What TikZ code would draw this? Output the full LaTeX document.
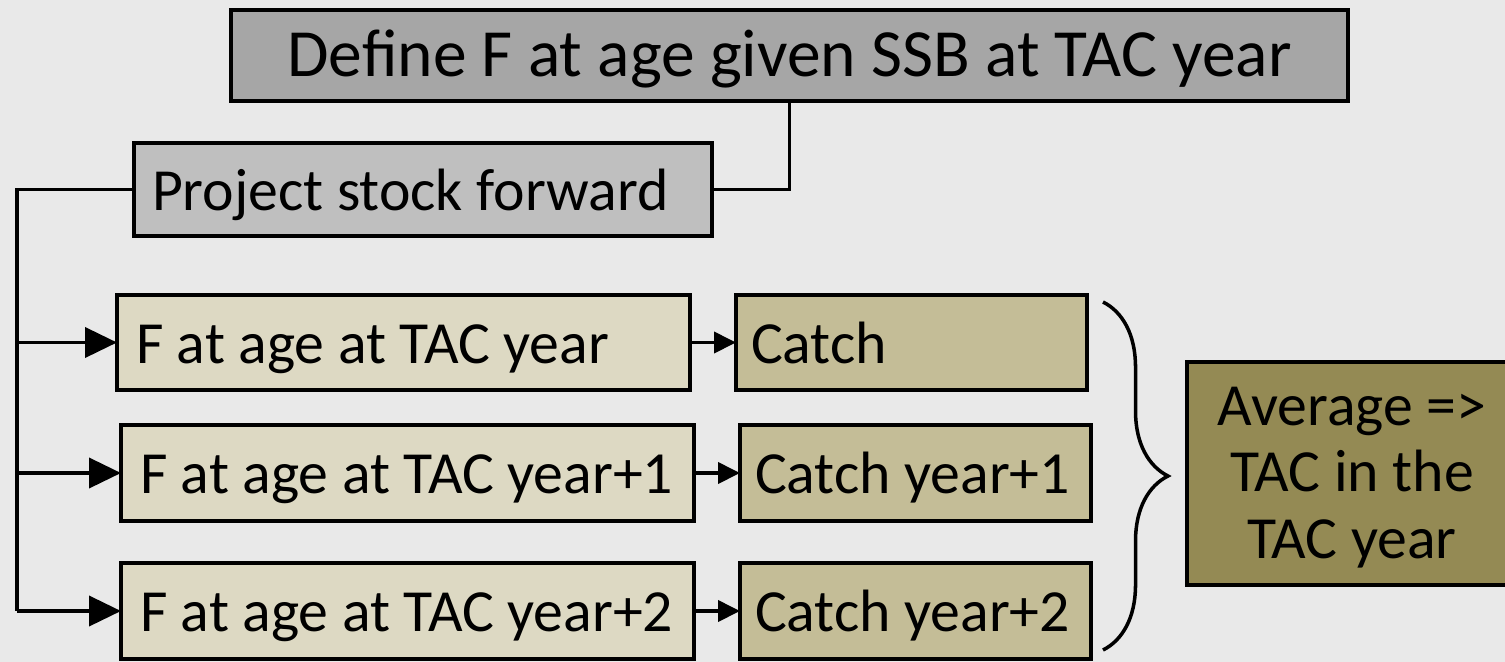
\documentclass[tikz,border=0pt]{standalone}
\usepackage{fontspec}
\setmainfont{Carlito}
\usetikzlibrary{positioning, arrows.meta, decorations.pathreplacing}
\definecolor{bgedge}{HTML}{E9E9E9}
\definecolor{bgmid}{HTML}{DADADA}
\definecolor{titlefill}{HTML}{A6A6A6}
\definecolor{projfill}{HTML}{BFBFBF}
\definecolor{agefill}{HTML}{DDD9C3}
\definecolor{catchfill}{HTML}{C4BD97}
\definecolor{avgfill}{HTML}{948A54}

\begin{document}
\begin{tikzpicture}[
  box/.style={draw, line width=1pt, anchor=north west, outer sep=0pt, inner ysep=0pt,
    text height=0.52cm, text depth=0.11cm, align=flush left, font=\fontsize{17}{19}\selectfont},
  conn/.style={line width=1.1pt},
  bigtip/.style={conn, -{Triangle[length=0.32cm, width=0.3cm]}},
  smalltip/.style={conn, -{Triangle[length=0.22cm, width=0.21cm]}}]
  \useasboundingbox (0,0) rectangle (15.05,-6.61);
  \clip (0,0) rectangle (15.05,-6.61);
  \shade[left color=bgedge, middle color=bgmid, right color=bgedge] (0,0) rectangle (15.05,-6.61);

  \node[box, fill=titlefill, align=flush center, text width=10.8cm, inner xsep=0.185cm, minimum height=0.91cm,
    font=\fontsize{19.2}{22}\selectfont] (define) at (2.31,-0.10) {Define F at age given SSB at TAC year};
  \node[box, fill=projfill, text width=5.42cm, inner xsep=0.18cm, minimum height=0.93cm] (project) at (1.34,-1.43) {Project stock forward};

  \node[box, fill=agefill, text width=5.35cm, inner xsep=0.19cm, minimum height=0.95cm] (age0) at (1.17,-2.95) {F at age at TAC year};
  \node[box, fill=agefill, text width=5.35cm, inner xsep=0.19cm, minimum height=0.96cm] (age1) at (1.21,-4.25) {F at age at TAC year+1};
  \node[box, fill=agefill, text width=5.35cm, inner xsep=0.19cm, minimum height=0.96cm] (age2) at (1.21,-5.63) {F at age at TAC year+2};

  \node[box, fill=catchfill, text width=3.21cm, inner xsep=0.15cm, minimum height=0.95cm] (catch0) at (7.36,-2.95) {Catch};
  \node[box, fill=catchfill, text width=3.21cm, inner xsep=0.15cm, minimum height=0.96cm] (catch1) at (7.40,-4.25) {Catch year+1};
  \node[box, fill=catchfill, text width=3.21cm, inner xsep=0.15cm, minimum height=0.96cm] (catch2) at (7.40,-5.63) {Catch year+2};

  \node[box, fill=avgfill, align=flush center, text width=3.0cm, inner xsep=0.15cm, minimum height=2.23cm,
    text depth=1.49cm] (avg) at (11.87,-3.62) {Average =>\\TAC in the\\TAC year};

  \coordinate (spine) at (0.17,-6.07);
  \draw[conn] (define.south) |- (project.east);
  \draw[conn] (project.west) -| (spine |- age2.west);
  \draw[bigtip] (spine |- age0.west) -- (age0.west);
  \draw[bigtip] (spine |- age1.west) -- (age1.west);
  \draw[bigtip] (spine |- age2.west) -- (age2.west);

  \draw[smalltip] (age0.east) -- (catch0.west);
  \draw[smalltip] (age1.east) -- (catch1.west);
  \draw[smalltip] (age2.east) -- (catch2.west);

  \draw[line width=1pt, decorate, decoration={brace, amplitude=0.65cm}] (11.03,-3.02) -- (11.03,-6.50);
\end{tikzpicture}
\end{document}
